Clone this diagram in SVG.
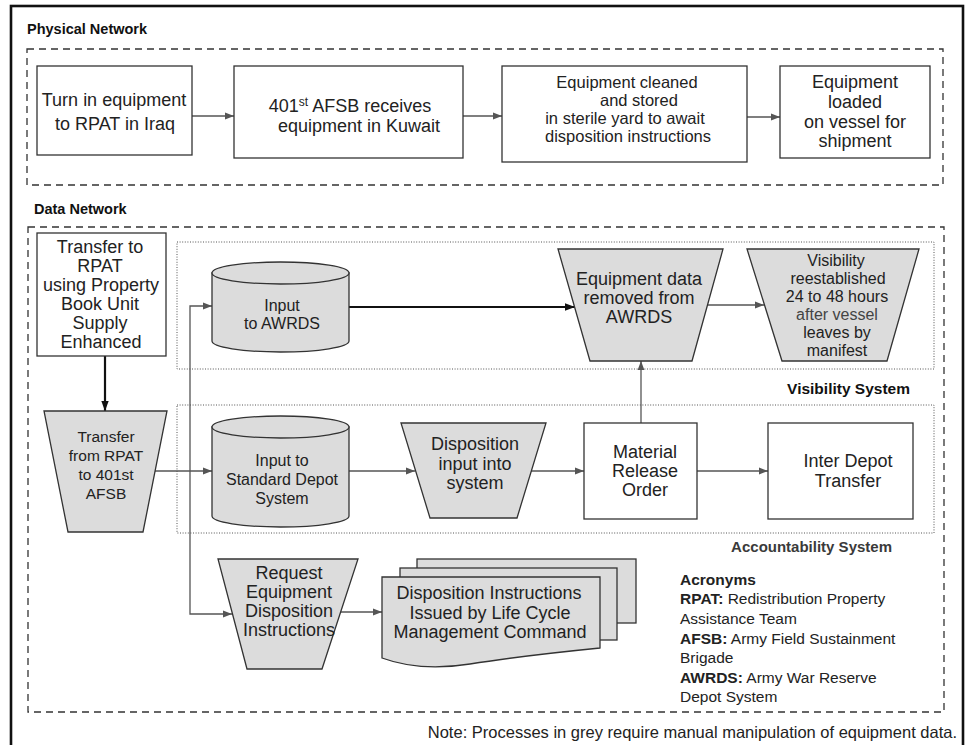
<svg xmlns="http://www.w3.org/2000/svg" width="970" height="745" viewBox="0 0 970 745">
<style>
.frame{fill:none;stroke:#111;stroke-width:2.6}
.dash{fill:none;stroke:#333;stroke-width:1.3;stroke-dasharray:7 5}
.dot{fill:none;stroke:#555;stroke-width:1;stroke-dasharray:1 1.6}
.box{fill:#fff;stroke:#333;stroke-width:1.3}
.grey{fill:#dcdcdc;stroke:#333;stroke-width:1.3}
.t{font-family:"Liberation Sans",Arial,sans-serif;font-size:18px;fill:#222;text-anchor:middle}
.s16{font-size:16px}
.s15{font-size:15.5px}
.s165{font-size:16.5px}
.hd{font-family:"Liberation Sans",Arial,sans-serif;font-weight:bold;fill:#111}
.ac{font-family:"Liberation Sans",Arial,sans-serif;font-size:15.5px;fill:#222}
.conn{fill:none;stroke:#555;stroke-width:1.3;marker-end:url(#ah)}
.thick{fill:none;stroke:#111;stroke-width:2.2;marker-end:url(#ahk)}
</style>
<defs>
<marker id="ah" markerWidth="10" markerHeight="8" refX="9" refY="4" orient="auto-start-reverse" markerUnits="userSpaceOnUse"><path d="M0,0.6 L9,4 L0,7.4 Z" fill="#555"/></marker>
<marker id="ahk" markerWidth="11" markerHeight="9" refX="10" refY="4.5" orient="auto" markerUnits="userSpaceOnUse"><path d="M0,0.8 L10,4.5 L0,8.2 Z" fill="#111"/></marker>
</defs>
<rect x="0" y="0" width="970" height="745" fill="#fff"/>
<rect class="frame" x="11" y="6" width="952" height="760"/>

<g id="physical-network">
<text class="hd" x="27" y="34" font-size="14.5">Physical Network</text>
<rect class="dash" x="27" y="49" width="916" height="136"/>
</g>
<g id="data-network">
<text class="hd" x="34" y="214" font-size="14.5">Data Network</text>
<rect class="dash" x="28" y="227" width="916" height="485"/>
</g>
<g id="visibility-system">
<rect class="dot" x="177" y="242" width="757" height="127"/>
<text class="hd" x="910" y="394" font-size="15.5" text-anchor="end">Visibility System</text>
</g>
<g id="accountability-system">
<rect class="dot" x="177" y="405" width="757" height="128"/>
<text class="hd" x="892" y="552" font-size="15" text-anchor="end" style="fill:#3a3a3a">Accountability System</text>
</g>

<g id="connectors">
<path class="conn" d="M192,116 H234"/>
<path class="conn" d="M463,116 H502"/>
<path class="conn" d="M747,117 H780"/>
<path class="thick" d="M105,356 V411"/>
<path class="conn" d="M155,471 H212"/>
<path class="conn" d="M212,306 H190 V614 H232" style="marker-start:url(#ah)"/>
<path class="thick" d="M349,307 H575"/>
<path class="conn" d="M707,305 H764"/>
<path class="conn" d="M349,471 H415"/>
<path class="conn" d="M531,471 H584"/>
<path class="conn" d="M697,471 H768"/>
<path class="conn" d="M641,423 V361"/>
<path class="conn" d="M341,612 H382"/>
</g>

<g id="turn-in">
<rect class="box" x="37" y="66" width="155" height="89"/>
<text class="t" x="114" y="106">Turn in equipment</text>
<text class="t" x="115" y="130">to RPAT in Iraq</text>
</g>
<g id="afsb-receives">
<rect class="box" x="234" y="66" width="229" height="92"/>
<text class="t" x="350" y="112">401<tspan font-size="12" dy="-6">st</tspan><tspan dy="6"> AFSB receives</tspan></text>
<text class="t" x="359" y="132">equipment in Kuwait</text>
</g>
<g id="cleaned-stored">
<rect class="box" x="502" y="66" width="245" height="96"/>
<text class="t s165" x="627" y="88">Equipment cleaned</text>
<text class="t s165" x="639" y="106">and stored</text>
<text class="t s165" x="625" y="124">in sterile yard to await</text>
<text class="t s165" x="628" y="142">disposition instructions</text>
</g>
<g id="loaded-vessel">
<rect class="box" x="780" y="66" width="150" height="92"/>
<text class="t" x="855" y="88">Equipment</text>
<text class="t" x="855" y="108">loaded</text>
<text class="t" x="855" y="128">on vessel for</text>
<text class="t" x="855" y="147">shipment</text>
</g>

<g id="transfer-to-rpat">
<rect class="box" x="37" y="233" width="129" height="123"/>
<text class="t" x="100" y="253">Transfer to</text>
<text class="t" x="100" y="272">RPAT</text>
<text class="t" x="101" y="291">using Property</text>
<text class="t" x="100" y="310">Book Unit</text>
<text class="t" x="100" y="329">Supply</text>
<text class="t" x="101" y="348">Enhanced</text>
</g>
<g id="transfer-from-rpat">
<polygon class="grey" points="44,411 167,411 143,532 68,532"/>
<text class="t s15" x="106" y="442">Transfer</text>
<text class="t s15" x="106" y="461">from RPAT</text>
<text class="t s15" x="106" y="480">to 401st</text>
<text class="t s15" x="106" y="499">AFSB</text>
</g>
<g id="input-awrds">
<path class="grey" d="M212,273 V341 A68.5,11 0 0 0 349,341 V273 Z"/>
<ellipse class="grey" cx="280.5" cy="273" rx="68.5" ry="11"/>
<text class="t s16" x="282" y="311">Input</text>
<text class="t s16" x="282" y="329">to AWRDS</text>
</g>
<g id="equipment-removed">
<polygon class="grey" points="558,249 723,249 692,361 590,361"/>
<text class="t" x="639" y="285">Equipment data</text>
<text class="t" x="639" y="304">removed from</text>
<text class="t" x="639" y="323">AWRDS</text>
</g>
<g id="visibility-reestablished">
<polygon class="grey" points="747,249 919,249 887,361 782,361"/>
<text class="t s16" x="836" y="266">Visibility</text>
<text class="t s16" x="838" y="284">reestablished</text>
<text class="t s16" x="837" y="302">24 to 48 hours</text>
<text class="t s16" x="837" y="320" style="fill:#444">after vessel</text>
<text class="t s16" x="837" y="338">leaves by</text>
<text class="t s16" x="837" y="356">manifest</text>
</g>
<g id="input-standard-depot">
<path class="grey" d="M212,427 V516 A68.5,11 0 0 0 349,516 V427 Z"/>
<ellipse class="grey" cx="280.5" cy="427" rx="68.5" ry="11"/>
<text class="t s16" x="282" y="466">Input to</text>
<text class="t s16" x="282" y="485">Standard Depot</text>
<text class="t s16" x="282" y="504">System</text>
</g>
<g id="disposition-input">
<polygon class="grey" points="401,423 546,423 517,518 430,518"/>
<text class="t" x="475" y="450">Disposition</text>
<text class="t" x="475" y="470">input into</text>
<text class="t" x="475" y="489">system</text>
</g>
<g id="material-release">
<rect class="box" x="584" y="423" width="113" height="96"/>
<text class="t" x="645" y="458">Material</text>
<text class="t" x="645" y="477">Release</text>
<text class="t" x="645" y="496">Order</text>
</g>
<g id="inter-depot">
<rect class="box" x="768" y="423" width="145" height="96"/>
<text class="t" x="848" y="467">Inter Depot</text>
<text class="t" x="848" y="487">Transfer</text>
</g>
<g id="request-disposition">
<polygon class="grey" points="218,559 358,559 322,669 247,669"/>
<text class="t" x="289" y="579">Request</text>
<text class="t" x="289" y="598">Equipment</text>
<text class="t" x="289" y="617">Disposition</text>
<text class="t" x="289" y="636">Instructions</text>
</g>
<g id="disposition-instructions">
<rect class="grey" x="417" y="559" width="219" height="64"/>
<rect class="grey" x="400" y="568" width="217" height="72"/>
<path class="grey" d="M382,577 H600 V648 Q520,656 470,664 Q420,672 382,658 Z"/>
<text class="t" x="489" y="599">Disposition Instructions</text>
<text class="t" x="490" y="619">Issued by Life Cycle</text>
<text class="t" x="490" y="638">Management Command</text>
</g>

<g id="acronyms">
<text class="ac" x="680" y="585" font-weight="bold">Acronyms</text>
<text class="ac" x="680" y="604"><tspan font-weight="bold">RPAT:</tspan> Redistribution Property</text>
<text class="ac" x="680" y="624">Assistance Team</text>
<text class="ac" x="680" y="644"><tspan font-weight="bold">AFSB:</tspan> Army Field Sustainment</text>
<text class="ac" x="680" y="663">Brigade</text>
<text class="ac" x="680" y="683"><tspan font-weight="bold">AWRDS:</tspan> Army War Reserve</text>
<text class="ac" x="680" y="702">Depot System</text>
</g>
<g id="note">
<text class="ac" x="957" y="738" text-anchor="end" style="font-size:16.5px">Note: Processes in grey require manual manipulation of equipment data.</text>
</g>
</svg>
